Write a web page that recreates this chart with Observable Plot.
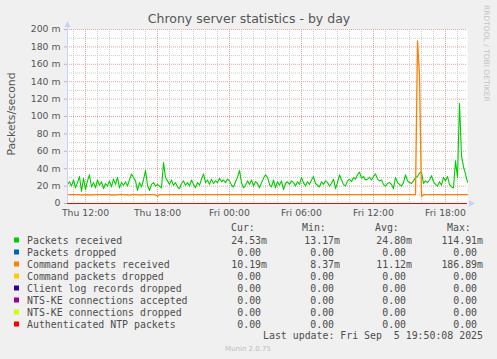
<!DOCTYPE html>
<html>
<head>
<meta charset="utf-8">
<script src="https://cdn.jsdelivr.net/npm/d3@7"></script>
<script src="https://cdn.jsdelivr.net/npm/@observablehq/plot@0.6"></script>
<style>
  html, body { margin: 0; padding: 0; background: #f0f0f0; }
  svg { display: block; }
</style>
</head>
<body>
<div id="chart"></div>
<script>
// ---- Data (values in milli-packets/second, 10-minute steps from Thu 10:30 to Fri 19:50) ----
const startTime = Date.UTC(2025, 8, 4, 10, 30);
const endTime = Date.UTC(2025, 8, 5, 19, 50);
const stepMinutes = 10;

const packetsReceived = [
  22, 25, 20, 27, 18, 24, 31, 14, 29, 16,
  26, 33, 19, 24, 18, 27, 21, 25, 17, 23,
  20, 26, 19, 28, 22, 30, 18, 24, 21, 25,
  20, 27, 34, 30, 26, 15, 24, 19, 27, 38,
  21, 15, 22, 24, 20, 22, 20, 18, 47, 30,
  26, 22, 27, 21, 24, 19, 17, 23, 26, 21,
  24, 20, 27, 22, 18, 24, 21, 28, 34, 24,
  27, 22, 28, 23, 26, 24, 29, 25, 27, 24,
  28, 26, 21, 19, 25, 30, 38, 24, 18, 21,
  26, 22, 27, 20, 25, 23, 18, 24, 29, 33,
  30, 22, 19, 27, 18, 25, 21, 26, 16, 23,
  25, 22, 26, 24, 20, 25, 22, 30, 24, 20,
  25, 22, 27, 31, 23, 21, 19, 25, 22, 26,
  24, 20, 23, 28, 17, 24, 33, 27, 22, 20,
  26, 28, 25, 30, 28, 33, 36, 29, 31, 27,
  28, 30, 27, 31, 34, 28, 26, 27, 22, 20,
  23, 24, 22, 17, 30, 24, 22, 20, 24, 33,
  26, 24, 23, 26, 30, 31, 35, 36, 23, 26,
  24, 27, 32, 25, 22, 20, 25, 21, 30, 26,
  31, 22, 19, 18, 49, 30, 115, 55, 42, 34,
  24.53
];

const commandPacketsReceived = [
  10.2, 10.2, 10.2, 10.2, 10.2, 10.2, 10.2, 9.7, 10.2, 9.7,
  10.2, 9.6, 10.2, 9.8, 10.2, 10.2, 10.2, 10.2, 10.2, 10.2,
  10.2, 10.2, 9.7, 10.2, 9.6, 10.2, 10.2, 10.2, 10.2, 9.8,
  10.2, 9.7, 10.2, 10.2, 10.2, 10.2, 9.7, 10.2, 9.8, 10.2,
  10.2, 10.2, 10.2, 10.2, 9.9, 8.4, 10.2, 10.2, 10.2, 10.2,
  10.2, 10.2, 10.2, 10.2, 10.2, 10.2, 10.2, 10.2, 10.2, 10.2,
  10.2, 10.2, 10.2, 10.2, 10.2, 10.2, 10.2, 10.2, 10.2, 10.2,
  10.2, 10.2, 10.2, 10.2, 10.2, 10.2, 10.2, 10.2, 10.2, 10.2,
  10.2, 10.2, 10.2, 10.2, 10.2, 10.2, 10.2, 10.2, 10.2, 10.2,
  10.2, 10.2, 10.2, 10.2, 10.2, 10.2, 10.2, 10.2, 10.2, 10.2,
  10.2, 10.2, 10.2, 10.2, 10.2, 10.2, 10.2, 10.2, 10.2, 10.2,
  10.2, 10.2, 10.2, 10.2, 10.2, 10.2, 10.2, 10.2, 10.2, 10.2,
  10.2, 10.2, 10.2, 10.2, 10.2, 10.2, 10.2, 10.2, 10.2, 10.2,
  10.2, 10.2, 10.2, 10.2, 10.2, 10.2, 10.2, 10.2, 10.2, 10.2,
  10.2, 10.2, 10.2, 10.2, 10.2, 10.2, 10.2, 10.2, 10.2, 10.2,
  10.2, 10.2, 10.2, 10.2, 10.2, 10.2, 10.2, 10.2, 10.2, 10.2,
  10.2, 10.2, 10.2, 10.2, 10.2, 10.2, 10.2, 10.2, 10.2, 10.2,
  10.2, 10.2, 10.2, 10.2, 10.2, 186.89, 147, 8.4, 10.2, 10.2,
  10.2, 10.2, 10.2, 10.2, 10.2, 10.2, 10.2, 10.2, 9.8, 10.2,
  10.2, 10.2, 10.2, 10.2, 10.2, 10.2, 10.2, 10.2, 10.2, 10.2,
  10.19
];

const seriesNames = [
  "Packets received", "Packets dropped", "Command packets received",
  "Command packets dropped", "Client log records dropped",
  "NTS-KE connections accepted", "NTS-KE connections dropped",
  "Authenticated NTP packets"
];
const seriesColors = ["#00cc00", "#0066b3", "#ff8000", "#ffcc00", "#330099", "#990099", "#ccff00", "#ff0000"];
const curValues = ["24.53m", "0.00", "10.19m", "0.00", "0.00", "0.00", "0.00", "0.00"];
const minValues = ["13.17m", "0.00", "8.37m", "0.00", "0.00", "0.00", "0.00", "0.00"];
const avgValues = ["24.80m", "0.00", "11.12m", "0.00", "0.00", "0.00", "0.00", "0.00"];
const maxValues = ["114.91m", "0.00", "186.89m", "0.00", "0.00", "0.00", "0.00", "0.00"];
const columnHeaders = ["Cur:", "Min:", "Avg:", "Max:"];
const yTickValues = [0, 20, 40, 60, 80, 100, 120, 140, 160, 180, 200];
const titleText = "Chrony server statistics - by day";
const yLabelText = "Packets/second";
const lastUpdateText = "Last update: Fri Sep  5 19:50:08 2025";
const watermarkText = "RRDTOOL / TOBI OETIKER";
const versionText = "Munin 2.0.75";

// ---- Layout ----
const W = 497, H = 359;
const mL = 67, mR = 30, mT = 29, mB = 156;
const times = packetsReceived.map((_, i) => new Date(startTime + i * stepMinutes * 60000));
const x0 = new Date(startTime), x1 = new Date(endTime);
const majorHours = d3.utcHour.every(6).range(x0, x1);
const minorHours = d3.utcHour.range(x0, x1).filter(d => d.getUTCHours() % 6 !== 0);
const fmtX = d3.utcFormat("%a %H:%M");

const minorGrid = "#cccccc";
const majorGrid = "#e4a2a2";

const zeroMark = i => Plot.ruleY([0], {stroke: seriesColors[i], strokeWidth: 1});

const chart = Plot.plot({
  width: W, height: H,
  marginLeft: mL, marginRight: mR, marginTop: mT, marginBottom: mB,
  style: {background: "#f0f0f0", fontFamily: "DejaVu Sans", fontSize: "9.3px", color: "#555"},
  x: {type: "utc", domain: [x0, x1], label: null},
  y: {domain: [0, 200], label: null},
  marks: [
    Plot.frame({fill: "white", stroke: null}),
    Plot.ruleY(d3.range(10, 200, 20), {stroke: minorGrid, strokeDasharray: "1,1"}),
    Plot.ruleX(minorHours, {stroke: minorGrid, strokeDasharray: "1,1"}),
    Plot.ruleY(d3.range(20, 201, 20), {stroke: majorGrid, strokeDasharray: "1,1"}),
    Plot.ruleX(majorHours, {stroke: majorGrid, strokeDasharray: "1,1"}),
    Plot.lineY(packetsReceived, {x: (d, i) => times[i], y: d => d, stroke: seriesColors[0], strokeWidth: 1.1}),
    zeroMark(1),
    Plot.lineY(commandPacketsReceived, {x: (d, i) => times[i], y: d => d, stroke: seriesColors[2], strokeWidth: 1.3}),
    zeroMark(3), zeroMark(4), zeroMark(5), zeroMark(6), zeroMark(7),
    Plot.axisY({ticks: yTickValues, tickFormat: d => d === 0 ? "0" : d + " m", tickSize: 3, tickPadding: 4, stroke: "#b8b8b8", label: null}),
    Plot.axisX({ticks: majorHours, tickFormat: fmtX, tickSize: 0, tickPadding: 6, label: null})
  ]
});

document.getElementById("chart").appendChild(chart);

// ---- Decorations, title, legend ----
const svg = d3.select(chart);
const axisBlue = "#c9d1f6";
const plotBottom = H - mB;

svg.append("line").attr("x1", mL + 0.5).attr("x2", mL + 0.5).attr("y1", plotBottom).attr("y2", 24)
  .attr("stroke", axisBlue).attr("stroke-width", 1);
svg.append("path").attr("d", `M${mL - 2.5},${27} L${mL + 3.5},${27} L${mL + 0.5},${21} Z`).attr("fill", axisBlue);
svg.append("path").attr("d", `M${W - mR + 2},${plotBottom - 3} L${W - mR + 2},${plotBottom + 4} L${W - mR + 8},${plotBottom + 0.5} Z`).attr("fill", axisBlue);

const g = svg.append("g").attr("text-anchor", "start");

g.append("text").attr("x", 249).attr("y", 22.5).attr("text-anchor", "middle")
  .attr("font-family", "DejaVu Sans").attr("font-size", 12.5).attr("fill", "#555").text(titleText);

g.append("text").attr("transform", "translate(14.5,114) rotate(-90)").attr("text-anchor", "middle")
  .attr("font-family", "DejaVu Sans").attr("font-size", 10.8).attr("fill", "#555").text(yLabelText);

g.append("text").attr("transform", "translate(484,5) rotate(90)").attr("text-anchor", "start")
  .attr("font-family", "DejaVu Sans").attr("font-size", 7.5).attr("fill", "#c4c4c4").text(watermarkText);

const mono = "DejaVu Sans Mono";
const fs = 9.9;
const cw = 0.602 * fs;
const headerX = [231, 302, 375, 447];
const colEnd = [267, 340, 412, 483];
const rowBase = 243.5, rowStep = 12;

columnHeaders.forEach((h, j) => {
  g.append("text").attr("x", headerX[j]).attr("y", 231.3).attr("text-anchor", "start").attr("font-family", mono)
    .attr("font-size", fs).attr("fill", "#4d4d4d").text(h);
});

const cols = [curValues, minValues, avgValues, maxValues];
seriesNames.forEach((name, i) => {
  const y = rowBase + i * rowStep;
  g.append("rect").attr("x", 14).attr("y", y - 6).attr("width", 5).attr("height", 5).attr("fill", seriesColors[i]);
  g.append("text").attr("x", 27).attr("y", y).attr("text-anchor", "start").attr("font-family", mono).attr("font-size", fs)
    .attr("fill", "#4d4d4d").text(name);
  cols.forEach((col, j) => {
    const v = col[i];
    const end = v.endsWith("m") ? colEnd[j] : colEnd[j] - cw;
    g.append("text").attr("x", end).attr("y", y).attr("text-anchor", "end").attr("font-family", mono)
      .attr("font-size", fs).attr("fill", "#4d4d4d").text(v);
  });
});

g.append("text").attr("x", 483).attr("y", 338.6).attr("text-anchor", "end").attr("font-family", mono)
  .attr("font-size", fs).attr("fill", "#4d4d4d").style("white-space", "pre").text(lastUpdateText);

g.append("text").attr("x", 248).attr("y", 351).attr("text-anchor", "middle").attr("font-family", "DejaVu Sans")
  .attr("font-size", 7).attr("fill", "#bdbdbd").text(versionText);
</script>
</body>
</html>
